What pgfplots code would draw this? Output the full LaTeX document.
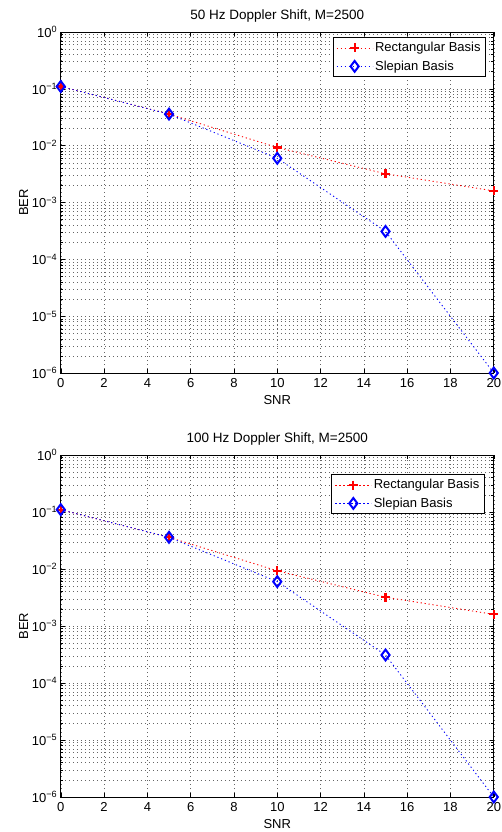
\documentclass[border=0pt]{standalone}
\usepackage{pgfplots}
\pgfplotsset{compat=1.18}
\usepackage{fontspec}
\setmainfont{Liberation Sans}
\begin{document}
\pgfplotsset{
  rectstyle/.style={red, line width=0.9bp, dash pattern=on 1.2bp off 2.8bp, mark=+, mark size=4.5bp, mark options={solid, red, line width=2.2bp}},
  slepstyle/.style={blue, line width=0.9bp, dash pattern=on 1.2bp off 2.8bp, mark=diamond, mark size=5.4bp, mark options={solid, blue, line width=2bp}},
}
\begin{tikzpicture}
\path[use as bounding box] (-58bp,-35bp) rectangle (441bp,797bp);
\begin{semilogyaxis}[
    width=433bp, height=341bp, scale only axis,
    at={(0bp,424bp)}, anchor=south west,
    xmin=0, xmax=20, ymin=1e-6, ymax=1,
    log basis y=10,
    xtick={0,2,...,20},
    ytick={1e-6,1e-5,1e-4,1e-3,1e-2,1e-1,1},
    minor ytick={2e-6,3e-6,4e-6,5e-6,6e-6,7e-6,8e-6,9e-6,2e-5,3e-5,4e-5,5e-5,6e-5,7e-5,8e-5,9e-5,2e-4,3e-4,4e-4,5e-4,6e-4,7e-4,8e-4,9e-4,2e-3,3e-3,4e-3,5e-3,6e-3,7e-3,8e-3,9e-3,0.02,0.03,0.04,0.05,0.06,0.07,0.08,0.09,0.2,0.3,0.4,0.5,0.6,0.7,0.8,0.9},
    yticklabels={10\textsuperscript{−6},10\textsuperscript{−5},10\textsuperscript{−4},10\textsuperscript{−3},10\textsuperscript{−2},10\textsuperscript{−1},10\textsuperscript{0}},
    /pgf/number format/assume math mode=true,
    tick label style={font=\fontsize{13bp}{15bp}\selectfont},
    xticklabel style={yshift=-2bp},
    label style={font=\fontsize{13bp}{15bp}\selectfont},
    title style={font=\fontsize{13.5bp}{15bp}\selectfont, at={(0.5,1)}, anchor=south, yshift=0bp},
    tick align=inside,
    major tick length=4bp, minor tick length=2.5bp,
    axis line style={line width=0.9bp},
    every tick/.style={black, line width=0.5bp},
    xmajorgrids, ymajorgrids, yminorgrids,
    major grid style={black!60, line width=0.5bp, dash pattern=on 0.7bp off 3.3bp},
    minor grid style={black!60, line width=0.5bp, dash pattern=on 0.7bp off 3.3bp},
    xlabel={SNR}, ylabel={BER},
    xlabel style={yshift=-1bp},
    ylabel style={yshift=-3bp},
    clip=false,
    legend cell align=left,
    legend style={draw=black, line width=0.8bp, font=\fontsize{13bp}{15bp}\selectfont,
      inner xsep=3bp, inner ysep=3bp, row sep=3.5bp, at={(0.982,0.985)}, anchor=north east},
    legend image code/.code={\draw[#1, mark repeat=2, mark phase=2] plot coordinates {(0bp,0bp) (18bp,0bp) (36bp,0bp)};},
    title={50 Hz Doppler Shift, M=2500},
  ]
\addplot[rectstyle] coordinates {(0,0.11) (5,0.036) (10,0.0093) (15,0.0032) (20,0.0016)};
\addlegendentry{Rectangular Basis}
\addplot[slepstyle] coordinates {(0,0.11) (5,0.036) (10,0.006) (15,0.00031) (20,1e-6)};
\addlegendentry{Slepian Basis}
\end{semilogyaxis}
\begin{semilogyaxis}[
    width=433bp, height=342bp, scale only axis,
    at={(0bp,0bp)}, anchor=south west,
    xmin=0, xmax=20, ymin=1e-6, ymax=1,
    log basis y=10,
    xtick={0,2,...,20},
    ytick={1e-6,1e-5,1e-4,1e-3,1e-2,1e-1,1},
    minor ytick={2e-6,3e-6,4e-6,5e-6,6e-6,7e-6,8e-6,9e-6,2e-5,3e-5,4e-5,5e-5,6e-5,7e-5,8e-5,9e-5,2e-4,3e-4,4e-4,5e-4,6e-4,7e-4,8e-4,9e-4,2e-3,3e-3,4e-3,5e-3,6e-3,7e-3,8e-3,9e-3,0.02,0.03,0.04,0.05,0.06,0.07,0.08,0.09,0.2,0.3,0.4,0.5,0.6,0.7,0.8,0.9},
    yticklabels={10\textsuperscript{−6},10\textsuperscript{−5},10\textsuperscript{−4},10\textsuperscript{−3},10\textsuperscript{−2},10\textsuperscript{−1},10\textsuperscript{0}},
    /pgf/number format/assume math mode=true,
    tick label style={font=\fontsize{13bp}{15bp}\selectfont},
    xticklabel style={yshift=-2bp},
    label style={font=\fontsize{13bp}{15bp}\selectfont},
    title style={font=\fontsize{13.5bp}{15bp}\selectfont, at={(0.5,1)}, anchor=south, yshift=0bp},
    tick align=inside,
    major tick length=4bp, minor tick length=2.5bp,
    axis line style={line width=0.9bp},
    every tick/.style={black, line width=0.5bp},
    xmajorgrids, ymajorgrids, yminorgrids,
    major grid style={black!60, line width=0.5bp, dash pattern=on 0.7bp off 3.3bp},
    minor grid style={black!60, line width=0.5bp, dash pattern=on 0.7bp off 3.3bp},
    xlabel={SNR}, ylabel={BER},
    xlabel style={yshift=-1bp},
    ylabel style={yshift=-3bp},
    clip=false,
    legend cell align=left,
    legend style={draw=black, line width=0.8bp, font=\fontsize{13bp}{15bp}\selectfont,
      inner xsep=3bp, inner ysep=3bp, row sep=3.5bp, at={(0.979,0.944)}, anchor=north east},
    legend image code/.code={\draw[#1, mark repeat=2, mark phase=2] plot coordinates {(0bp,0bp) (18bp,0bp) (36bp,0bp)};},
    title={100 Hz Doppler Shift, M=2500},
  ]
\addplot[rectstyle] coordinates {(0,0.11) (5,0.036) (10,0.0093) (15,0.0032) (20,0.0016)};
\addlegendentry{Rectangular Basis}
\addplot[slepstyle] coordinates {(0,0.11) (5,0.036) (10,0.006) (15,0.00031) (20,1e-6)};
\addlegendentry{Slepian Basis}
\end{semilogyaxis}
\end{tikzpicture}
\end{document}
